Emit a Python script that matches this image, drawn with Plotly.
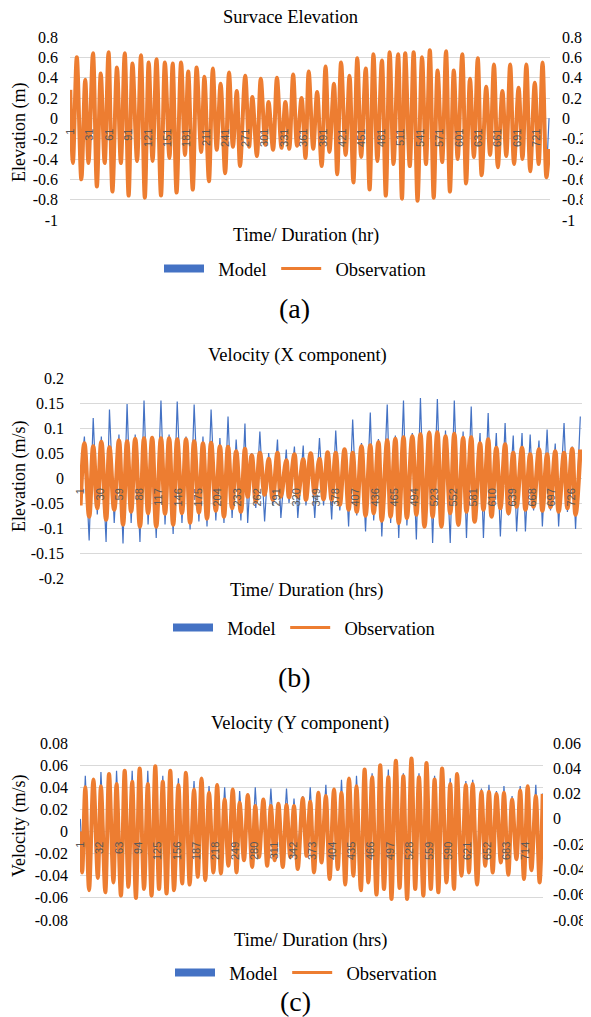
import plotly.graph_objects as go

# The page body keeps the browser's default 8 px margin, so the figure is
# sized to fill the remaining 583 x 1009 pixels of the 591 x 1017 window.
PAGE_W, PAGE_H, BODY_MARGIN = 591, 1017, 8
W, H = PAGE_W - BODY_MARGIN, PAGE_H - BODY_MARGIN
N_HOURS = 741
BLUE = "#4472C4"
ORANGE = "#ED7D31"
SERIF = "Liberation Serif, Times New Roman, serif"
SANS = "Liberation Sans, Arial, sans-serif"

# ---------------- Panel (a): Surface elevation (m) ----------------
hours_a = [1, 5, 11, 18, 24, 29, 36, 42, 48, 54,
           60, 66, 73, 79, 85, 91, 97, 104, 110, 116,
           122, 128, 134, 141, 147, 154, 159, 165, 172, 178,
           183, 190, 196, 203, 208, 215, 221, 227, 233, 240,
           246, 252, 258, 263, 271, 277, 282, 289, 295, 302,
           307, 314, 320, 327, 333, 339,
           345, 351, 358, 364, 369, 376, 382, 389, 395, 401,
           408, 413, 419, 426, 432, 438, 444, 450, 457, 463,
           469, 475, 482, 488, 494, 500, 507, 513, 518, 525,
           531, 537, 544, 550, 556, 562, 568, 575, 581, 587,
           593, 599, 606, 612, 618, 624, 630, 636, 643, 649,
           655, 661, 668, 674, 680, 686, 693, 699, 705, 711,
           718, 724, 730, 736, 740]
obs_a = [0.28, -0.44, 0.60, -0.60, 0.38, -0.44, 0.64, -0.67, 0.44, -0.44,
         0.65, -0.72, 0.50, -0.44, 0.64, -0.76, 0.54, -0.42, 0.62, -0.78,
         0.55, -0.42, 0.58, -0.76, 0.55, -0.39, 0.54, -0.73, 0.55, -0.36,
         0.46, -0.70, 0.50, -0.33, 0.41, -0.62, 0.49, -0.31, 0.34, -0.54,
         0.45, -0.28, 0.27, -0.47, 0.42, -0.28, 0.21, -0.37, 0.39, -0.26,
         0.16, -0.31, 0.40, -0.29, 0.16, -0.30,
         0.43, -0.27, 0.20, -0.39, 0.46, -0.30, 0.26, -0.47, 0.51, -0.33,
         0.34, -0.55, 0.55, -0.36, 0.42, -0.63, 0.59, -0.38, 0.49, -0.70,
         0.63, -0.42, 0.57, -0.76, 0.65, -0.45, 0.63, -0.79, 0.64, -0.47,
         0.65, -0.81, 0.60, -0.45, 0.67, -0.78, 0.47, -0.43, 0.66, -0.72,
         0.47, -0.40, 0.63, -0.64, 0.39, -0.38, 0.59, -0.56, 0.31, -0.36,
         0.53, -0.48, 0.27, -0.37, 0.53, -0.45, 0.30, -0.40, 0.53, -0.52,
         0.35, -0.45, 0.55, -0.58, -0.30]
model_a = [0.28, -0.42, 0.58, -0.58, 0.37, -0.42, 0.62, -0.65, 0.43, -0.42,
           0.63, -0.70, 0.49, -0.42, 0.62, -0.74, 0.53, -0.40, 0.60, -0.76,
           0.54, -0.40, 0.57, -0.74, 0.54, -0.37, 0.53, -0.71, 0.54, -0.34,
           0.45, -0.68, 0.49, -0.31, 0.40, -0.60, 0.48, -0.29, 0.33, -0.52,
           0.44, -0.26, 0.26, -0.45, 0.41, -0.26, 0.20, -0.35, 0.38, -0.24,
           0.15, -0.29, 0.39, -0.27, 0.15, -0.28,
           0.42, -0.25, 0.19, -0.37, 0.45, -0.28, 0.25, -0.45, 0.50, -0.31,
           0.33, -0.53, 0.54, -0.34, 0.41, -0.61, 0.58, -0.36, 0.48, -0.68,
           0.62, -0.40, 0.56, -0.74, 0.64, -0.43, 0.62, -0.77, 0.63, -0.45,
           0.64, -0.79, 0.59, -0.43, 0.66, -0.76, 0.46, -0.41, 0.65, -0.70,
           0.46, -0.38, 0.62, -0.62, 0.38, -0.36, 0.58, -0.54, 0.30, -0.34,
           0.52, -0.46, 0.26, -0.35, 0.52, -0.43, 0.29, -0.38, 0.52, -0.50,
           0.34, -0.43, 0.54, -0.56, 0.00]
xticks_a = [1, 31, 61, 91, 121, 151, 181, 211, 241, 271, 301, 331, 361,
            391, 421, 451, 481, 511, 541, 571, 601, 631, 661, 691, 721]
yticks_a = [-1, -0.8, -0.6, -0.4, -0.2, 0, 0.2, 0.4, 0.6, 0.8]
ylabels_a = ["-1", "-0.8", "-0.6", "-0.4", "-0.2", "0", "0.2", "0.4", "0.6", "0.8"]

# ---------------- Panel (b): Velocity X (m/s) ----------------
hours_b = [1, 7, 14, 20, 26, 32, 39, 44, 51, 58,
           64, 70, 76, 82, 89, 95, 101, 107, 113, 120,
           126, 132, 138, 144, 151, 157, 163, 169, 176, 182,
           188, 194, 201, 207, 213, 219, 225, 231, 238, 244,
           248, 254, 260, 266, 273, 279, 285, 292, 297, 305,
           309, 317, 322, 330, 334, 341, 347, 354, 360, 366,
           372, 378, 384, 391, 397, 403, 409, 416, 422, 429,
           434, 441, 446, 454, 459, 466, 471, 478, 483,
           491, 497, 503, 509, 516, 521, 528, 534, 540, 547,
           553, 559, 566, 571, 578, 583, 591, 596, 603, 608,
           615, 621, 628, 633, 640, 645, 653, 658, 665, 670,
           678, 683, 690, 695, 702, 707, 715, 720, 727, 732,
           739]
obs_b = [-0.055, 0.069, -0.077, 0.063, -0.060, 0.072, -0.083, 0.061, -0.063, 0.075,
         -0.093, 0.073, -0.067, 0.078, -0.097, 0.079, -0.070, 0.080, -0.097, 0.079,
         -0.071, 0.079, -0.093, 0.077, -0.070, 0.077, -0.089, 0.073, -0.069, 0.069,
         -0.081, 0.070, -0.065, 0.063, -0.077, 0.062, -0.060, 0.053, -0.067, 0.058,
         -0.037, 0.045, -0.047, 0.050, -0.033, 0.038, -0.043, 0.050, -0.037, 0.035,
         -0.038, 0.047, -0.037, 0.037, -0.043, 0.049, -0.031, 0.038, -0.042, 0.051,
         -0.043, 0.050, -0.053, 0.057, -0.063, 0.050, -0.067, 0.063, -0.075, 0.065,
         -0.070, 0.071, -0.085, 0.075, -0.077, 0.078, -0.090, 0.081, -0.080,
         0.083, -0.073, 0.087, -0.097, 0.090, -0.077, 0.091, -0.097, 0.083, -0.070,
         0.088, -0.093, 0.080, -0.067, 0.081, -0.087, 0.069, -0.063, 0.077, -0.077,
         0.060, -0.060, 0.067, -0.070, 0.050, -0.057, 0.060, -0.063, 0.047, -0.057,
         0.057, -0.065, 0.047, -0.058, 0.053, -0.067, 0.050, -0.060, 0.058, -0.073,
         0.057]
model_b = [0.000, 0.083, -0.125, 0.120, -0.073, 0.083, -0.128, 0.137, -0.090, 0.087,
           -0.131, 0.148, -0.090, 0.087, -0.128, 0.155, -0.093, 0.083, -0.120, 0.155,
           -0.093, 0.087, -0.112, 0.153, -0.090, 0.083, -0.103, 0.147, -0.087, 0.083,
           -0.097, 0.137, -0.085, 0.080, -0.090, 0.123, -0.080, 0.077, -0.085, 0.109,
           -0.090, 0.050, -0.060, 0.093, -0.087, 0.050, -0.055, 0.077, -0.080, 0.057,
           -0.050, 0.063, -0.080, 0.065, -0.055, 0.050, -0.080, 0.080, -0.055, 0.053,
           -0.083, 0.095, -0.065, 0.060, -0.097, 0.117, -0.075, 0.070, -0.107, 0.131,
           -0.085, 0.078, -0.117, 0.147, -0.090, 0.085, -0.120, 0.155, -0.095,
           0.090, -0.123, 0.160, -0.100, 0.095, -0.130, 0.158, -0.100, 0.095, -0.130,
           0.155, -0.097, 0.093, -0.120, 0.143, -0.090, 0.090, -0.120, 0.130, -0.080,
           0.090, -0.117, 0.110, -0.075, 0.085, -0.107, 0.090, -0.107, 0.087, -0.065,
           0.075, -0.097, 0.097, -0.065, 0.069, -0.097, 0.110, -0.068, 0.063, -0.102,
           0.123]
xticks_b = [1, 30, 59, 88, 117, 146, 175, 204, 233, 262, 291, 320, 349,
            378, 407, 436, 465, 494, 523, 552, 581, 610, 639, 668, 697, 726]
yticks_b = [-0.2, -0.15, -0.1, -0.05, 0, 0.05, 0.1, 0.15, 0.2]
ylabels_b = ["-0.2", "-0.15", "-0.1", "-0.05", "0", "0.05", "0.1", "0.15", "0.2"]

# ---------------- Panel (c): Velocity Y (m/s) ----------------
hours_c = [1, 4, 9, 15, 22, 29, 34, 41, 47, 54,
           59, 66, 72, 78, 84, 90, 96, 103, 109, 115,
           121, 127, 133, 139, 145, 151, 158, 164, 170, 176,
           183, 189, 195, 201, 207, 214, 220, 226, 232, 238,
           245, 251, 256, 263, 269, 276, 281, 287, 294, 300,
           306, 312, 318, 325, 331, 337, 343, 349,
           357, 363, 369, 375, 382, 387, 394, 400, 407, 413,
           419, 425, 431, 438, 443, 450, 456, 462, 468, 475,
           481, 487, 494, 499, 506, 512, 518, 524, 531, 537,
           543, 550, 555, 562, 568, 574, 580, 587, 593, 599,
           604, 611, 618, 623, 629, 636, 643, 649, 655, 661,
           667, 674, 679, 686, 692, 699, 705, 711, 717, 723,
           730, 736, 741]
obs_c = [0.000, -0.037, 0.040, -0.053, 0.047, -0.042, 0.041, -0.055, 0.052, -0.046,
         0.043, -0.058, 0.055, -0.050, 0.045, -0.060, 0.057, -0.052, 0.043, -0.058,
         0.059, -0.052, 0.045, -0.056, 0.055, -0.053, 0.042, -0.047, 0.053, -0.048,
         0.038, -0.041, 0.048, -0.044, 0.035, -0.037, 0.042, -0.038, 0.029, -0.031,
         0.038, -0.037, 0.026, -0.026, 0.033, -0.032, 0.023, -0.023, 0.029, -0.031,
         0.023, -0.026, 0.025, -0.032, 0.024, -0.023, 0.023, -0.034,
         0.030, -0.022, 0.027, -0.037, 0.035, -0.028, 0.032, -0.043, 0.038, -0.034,
         0.035, -0.048, 0.048, -0.040, 0.041, -0.053, 0.056, -0.046, 0.049, -0.057,
         0.060, -0.052, 0.049, -0.061, 0.064, -0.051, 0.050, -0.061, 0.066, -0.052,
         0.049, -0.058, 0.062, -0.052, 0.047, -0.055, 0.057, -0.046, 0.043, -0.052,
         0.052, -0.040, 0.042, -0.037, 0.043, -0.048, 0.036, -0.031, 0.036, -0.037,
         0.034, -0.028, 0.035, -0.039, 0.029, -0.025, 0.037, -0.043, 0.041, -0.035,
         0.032, -0.046, 0.034]
model_c = [0.000, -0.030, 0.034, -0.035, 0.030, -0.035, 0.037, -0.038, 0.034, -0.038,
           0.038, -0.040, 0.036, -0.040, 0.038, -0.040, 0.037, -0.040, 0.038, -0.040,
           0.037, -0.040, 0.034, -0.038, 0.035, -0.038, 0.032, -0.036, 0.033, -0.035,
           0.030, -0.033, 0.031, -0.032, 0.026, -0.030, 0.026, -0.029, 0.025, -0.028,
           0.023, -0.027, 0.022, -0.026, 0.019, -0.026, 0.025, -0.026, 0.016, -0.026,
           0.024, -0.026, 0.012, -0.026, 0.024, -0.026, 0.016, -0.026,
           0.018, -0.026, 0.025, -0.028, 0.020, -0.028, 0.027, -0.030, 0.024, -0.031,
           0.031, -0.033, 0.031, -0.035, 0.034, -0.037, 0.036, -0.038, 0.036, -0.040,
           0.040, -0.040, 0.039, -0.042, 0.043, -0.042, 0.036, -0.043, 0.044, -0.043,
           0.036, -0.042, 0.042, -0.041, 0.034, -0.040, 0.039, -0.038, 0.032, -0.037,
           0.035, -0.035, 0.030, -0.033, 0.031, -0.032, 0.024, -0.030, 0.027, -0.030,
           0.022, -0.029, 0.026, -0.029, 0.018, -0.028, 0.026, -0.029, 0.025, -0.029,
           0.027, -0.030, 0.020]
xticks_c = [1, 32, 63, 94, 125, 156, 187, 218, 249, 280, 311, 342,
            373, 404, 435, 466, 497, 528, 559, 590, 621, 652, 683, 714]
yticks_c = [-0.08, -0.06, -0.04, -0.02, 0, 0.02, 0.04, 0.06, 0.08]
ylabels_c = ["-0.08", "-0.06", "-0.04", "-0.02", "0", "0.02", "0.04", "0.06", "0.08"]
yticks_c2 = [-0.08, -0.06, -0.04, -0.02, 0, 0.02, 0.04, 0.06]
ylabels_c2 = ["-0.08", "-0.06", "-0.04", "-0.02", "0", "0.02", "0.04", "0.06"]

titles = ["Survace Elevation", "Velocity (X component)", "Velocity (Y component)"]
xtitles = ["Time/ Duration (hr)", "Time/ Duration (hrs)", "Time/ Duration (hrs)"]
ytitles = ["Elevation (m)", "Elevation (m/s)", "Velocity (m/s)"]
panel_tags = ["(a)", "(b)", "(c)"]
series_names = ["Model", "Observation"]
NBSP = "\u00a0"


# ---------------- layout helpers (page pixel -> paper fraction) ----------------
def fx(px):
    return (px - BODY_MARGIN) / W


def fy(px):
    return 1 - (px - BODY_MARGIN) / H


def zero_pos(dom, rng):
    return dom[0] + (0 - rng[0]) / (rng[1] - rng[0]) * (dom[1] - dom[0])


dom_a_x, dom_a_y = [fx(70), fx(550)], [fy(220), fy(37)]
dom_b_x, dom_b_y = [fx(80), fx(582)], [fy(578), fy(378)]
dom_c_x, dom_c_y = [fx(80), fx(543)], [fy(920), fy(743)]
rng_a = [-1, 0.8]
rng_b = [-0.2, 0.2]
rng_c = [-0.08, 0.08]
rng_c2 = [-0.08, 0.06]

fig = go.Figure()

# Panel (a)
fig.add_trace(go.Scatter(x=hours_a, y=model_a, xaxis="x", yaxis="y", mode="lines",
                         line=dict(color=BLUE, width=1.2), showlegend=False, hoverinfo="skip"))
fig.add_trace(go.Scatter(x=hours_a, y=obs_a, xaxis="x", yaxis="y2", mode="lines",
                         line=dict(color=ORANGE, width=4, shape="spline", smoothing=1),
                         showlegend=False, hoverinfo="skip"))
# Panel (b)
fig.add_trace(go.Scatter(x=hours_b, y=model_b, xaxis="x2", yaxis="y3", mode="lines",
                         line=dict(color=BLUE, width=1.2), showlegend=False, hoverinfo="skip"))
fig.add_trace(go.Scatter(x=hours_b, y=obs_b, xaxis="x2", yaxis="y3", mode="lines",
                         line=dict(color=ORANGE, width=4.5, shape="spline", smoothing=1),
                         showlegend=False, hoverinfo="skip"))
# Panel (c)
fig.add_trace(go.Scatter(x=hours_c, y=model_c, xaxis="x3", yaxis="y4", mode="lines",
                         line=dict(color=BLUE, width=1.2), showlegend=False, hoverinfo="skip"))
fig.add_trace(go.Scatter(x=hours_c, y=obs_c, xaxis="x3", yaxis="y5", mode="lines",
                         line=dict(color=ORANGE, width=4, shape="spline", smoothing=1),
                         showlegend=False, hoverinfo="skip"))

# Legend entries (one legend per panel)
for xa, ya, lg in [("x", "y", "legend"), ("x2", "y3", "legend2"), ("x3", "y4", "legend3")]:
    fig.add_trace(go.Scatter(x=[None], y=[None], xaxis=xa, yaxis=ya, mode="lines",
                             name=NBSP * 2 + series_names[0] + NBSP,
                             line=dict(color=BLUE, width=8), legend=lg))
    fig.add_trace(go.Scatter(x=[None], y=[None], xaxis=xa, yaxis=ya, mode="lines",
                             name=NBSP * 2 + series_names[1],
                             line=dict(color=ORANGE, width=3), legend=lg))

tick_font = dict(family=SERIF, size=16, color="#000000")
cat_font = dict(family=SANS, size=11, color="#595959")


def xaxis_cfg(dom, pos, ticks):
    return dict(domain=dom, range=[0.5, N_HOURS + 0.5], anchor="free", position=pos,
                tickmode="array", tickvals=ticks, ticktext=[str(t) for t in ticks],
                tickangle=-90, tickfont=cat_font, showgrid=False, zeroline=False,
                showline=False, ticks="", ticklabelstandoff=7, fixedrange=True,
                automargin=False)


def yaxis_cfg(dom, rng, ticks, labels, anchor, side, grid, standoff, overlay=None):
    d = dict(domain=dom, range=rng, tickmode="array", tickvals=ticks, ticktext=labels,
             tickfont=tick_font, showgrid=grid, gridcolor="#D9D9D9", gridwidth=1,
             zeroline=False, showline=False, ticks="", anchor=anchor, side=side,
             ticklabelstandoff=standoff, fixedrange=True, automargin=False)
    if overlay:
        d["overlaying"] = overlay
        d.pop("domain")
    return d


legend_common = dict(orientation="h", xanchor="left", yanchor="middle",
                     font=dict(family=SERIF, size=18.5, color="#000000"),
                     itemwidth=40, bgcolor="rgba(0,0,0,0)", itemclick=False,
                     itemdoubleclick=False)

ann = []
title_pos = [(290, 17), (297, 355), (300, 723)]
xt_pos = [(306, 236), (307, 590), (310, 940)]
yt_pos = [(19, 133), (19, 477), (19, 826)]
tag_pos = [(294, 308), (294, 677), (295, 1001)]
txt_font = dict(family=SERIF, size=18.5, color="#000")
for i in range(3):
    common = dict(xref="paper", yref="paper", showarrow=False, xanchor="center", yanchor="middle")
    ann.append(dict(common, text=titles[i], x=fx(title_pos[i][0]), y=fy(title_pos[i][1]), font=txt_font))
    ann.append(dict(common, text=xtitles[i], x=fx(xt_pos[i][0]), y=fy(xt_pos[i][1]), font=txt_font))
    ann.append(dict(common, text=ytitles[i], x=fx(yt_pos[i][0]), y=fy(yt_pos[i][1]), textangle=-90,
                    font=dict(family=SERIF, size=18, color="#000")))
    ann.append(dict(common, text=panel_tags[i], x=fx(tag_pos[i][0]), y=fy(tag_pos[i][1]),
                    font=dict(family=SERIF, size=28, color="#000")))

fig.update_layout(
    template="none",
    width=W, height=H, margin=dict(l=0, r=0, t=0, b=0, pad=0), autosize=False,
    paper_bgcolor="white", plot_bgcolor="white", showlegend=True,
    xaxis=xaxis_cfg(dom_a_x, zero_pos(dom_a_y, rng_a), xticks_a),
    yaxis=yaxis_cfg(dom_a_y, rng_a, yticks_a, ylabels_a, "x", "left", True, 11),
    yaxis2=yaxis_cfg(dom_a_y, rng_a, yticks_a, ylabels_a, "x", "right", False, 11, overlay="y"),
    xaxis2=xaxis_cfg(dom_b_x, zero_pos(dom_b_y, rng_b), xticks_b),
    yaxis3=yaxis_cfg(dom_b_y, rng_b, yticks_b, ylabels_b, "x2", "left", True, 15),
    xaxis3=xaxis_cfg(dom_c_x, zero_pos(dom_c_y, rng_c), xticks_c),
    yaxis4=yaxis_cfg(dom_c_y, rng_c2, yticks_c2, ylabels_c2, "x3", "right", False, 9),
    yaxis5=yaxis_cfg(dom_c_y, rng_c, yticks_c, ylabels_c, "x3", "left", True, 11, overlay="y4"),
    legend=dict(legend_common, x=fx(159), y=fy(269)),
    legend2=dict(legend_common, x=fx(168), y=fy(628)),
    legend3=dict(legend_common, x=fx(170), y=fy(973)),
    annotations=ann,
)

fig.write_html("out.html")
